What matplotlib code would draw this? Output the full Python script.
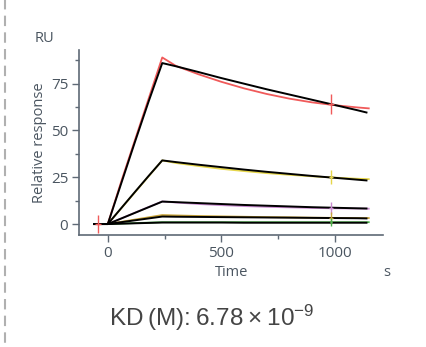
import matplotlib
matplotlib.use("Agg")
import matplotlib.pyplot as plt
from matplotlib.path import Path
from matplotlib.patches import FancyBboxPatch

# ---- data ----
t_data = [-60, 0, 60, 120, 180, 240, 300, 400, 500, 600, 700, 800, 900, 1000, 1100, 1150]
s1 = [0, 0, 23, 45, 67, 89, 84.5, 80, 76, 72.5, 69.5, 67, 65, 63.5, 62.3, 61.8]
s2 = [0, 0, 8.5, 17, 25.5, 34, 32.6, 31, 29.5, 28.3, 27.2, 26.3, 25.5, 24.8, 24.2, 24.0]
s3 = [0, 0, 3.0, 6.1, 9.1, 12.1, 11.5, 10.7, 10.1, 9.6, 9.2, 8.9, 8.6, 8.4, 8.3, 8.2]
s4 = [0, 0, 1.2, 2.4, 3.6, 4.8, 4.6, 4.3, 4.1, 3.9, 3.7, 3.6, 3.4, 3.3, 3.2, 3.2]
s5 = [0, 0, 0.25, 0.5, 0.75, 1.0, 1.0, 1.0, 1.0, 1.0, 1.0, 1.0, 1.0, 1.0, 1.0, 1.0]

t_fit = [-60, 0, 60, 120, 180, 240, 300, 400, 500, 600, 700, 800, 900, 1000, 1100, 1140]
f1 = [0, 0, 22, 44, 65.5, 86, 84.3, 81.2, 78.0, 75.0, 72.0, 69.2, 66.4, 63.6, 60.8, 59.6]
f2 = [0, 0, 8.6, 17.2, 25.7, 34, 33.1, 31.7, 30.4, 29.1, 27.9, 26.8, 25.7, 24.7, 23.7, 23.3]
f3 = [0, 0, 3.0, 6.0, 9.0, 12.0, 11.7, 11.2, 10.7, 10.2, 9.8, 9.4, 9.0, 8.7, 8.4, 8.3]
f4 = [0, 0, 1.0, 2.0, 3.0, 4.0, 3.9, 3.8, 3.7, 3.6, 3.5, 3.4, 3.3, 3.2, 3.1, 3.0]
f5 = [0, 0, 0.2, 0.4, 0.6, 0.8, 0.8, 0.8, 0.8, 0.7, 0.7, 0.7, 0.7, 0.7, 0.7, 0.7]

series = [s1, s2, s3, s4, s5]
fits = [f1, f2, f3, f4, f5]
colors = ["#f05a5a", "#e6d64a", "#c98ad0", "#c9a43a", "#4cb04c"]
report_t = 982
report_y = [64.0, 25.0, 8.8, 3.3, 1.0]
report_size = [14, 10, 9, 8, 6]
inject_t = -44
inject_y = 0

xticks = [0, 500, 1000]
xticks_minor = [250, 750]
yticks = [0, 25, 50, 75]
yticks_minor = [12.5, 37.5, 62.5, 87.5]
kd_text = "KD\u2009(M):\u20096.78\u2009×\u200910$^{\\mathregular{−9}}$"

# ---- figure ----
plt.rcParams['font.family'] = ['Open Sans', 'DejaVu Sans']
plt.rcParams['mathtext.fontset'] = 'custom'
plt.rcParams['mathtext.rm'] = 'Liberation Sans'
plt.rcParams['mathtext.it'] = 'Liberation Sans'
fig = plt.figure(figsize=(4.27, 3.47), dpi=100)
ax = fig.add_axes([0.186, 0.3236, 0.71, 0.5324])

cross = Path([(0, -1), (0, 1), (-0.35, 0), (0.35, 0)],
             [Path.MOVETO, Path.LINETO, Path.MOVETO, Path.LINETO])

for s, c in zip(series, colors):
    ax.plot(t_data, s, color=c, lw=1.3, zorder=2)
for f in fits:
    ax.plot(t_fit, f, color="black", lw=1.4, zorder=3)
for y, c, sz in zip(report_y, colors, report_size):
    ax.plot([report_t], [y], marker=cross, ms=sz, mec=c, mew=1.0, ls="none", zorder=4)
ax.plot([inject_t], [inject_y], marker=cross, ms=13, mec=colors[0], mew=1.0, ls="none", zorder=4)

ax.set_xlim(-125, 1211)
ax.set_ylim(-5.7, 93)
spine_c = "#5f6a76"
for side in ["top", "right"]:
    ax.spines[side].set_visible(False)
for side in ["left", "bottom"]:
    ax.spines[side].set_color(spine_c)
    ax.spines[side].set_linewidth(1.2)
ax.set_xticks(xticks)
ax.set_xticks(xticks_minor, minor=True)
ax.set_yticks(yticks)
ax.set_yticks(yticks_minor, minor=True)
ax.tick_params(axis="both", which="major", length=5, width=1, color=spine_c,
               labelcolor="#4a5560", labelsize=11, pad=3)
ax.tick_params(axis="both", which="minor", length=3, width=1, color=spine_c)

ax.set_ylabel("Relative response", color="#4a5560", fontsize=10.5, labelpad=3)
fig.text(232 / 427, 1 - 273 / 347, "Time", color="#4a5560", fontsize=10.5, ha="center", va="center")
fig.text(387 / 427, 1 - 273 / 347, "s", color="#4a5560", fontsize=10.5, ha="center", va="center")
fig.text(45 / 427, 1 - 39 / 347, "RU", color="#4a5560", fontsize=10.5, ha="center", va="center")
fig.text(212 / 427, 1 - 318 / 347, kd_text, color="#444444", fontsize=17.5, ha="center", va="center",
         family=["Liberation Sans", "DejaVu Sans"])

# dashed card border
box = FancyBboxPatch((5 / 427, -0.05), 1.2, 1.2, boxstyle="round,pad=0,rounding_size=0.04",
                     transform=fig.transFigure, fill=False, ec="#b0b0b0", lw=1.5,
                     ls=(0, (5, 3)), zorder=0)
fig.add_artist(box)

fig.savefig("out.png", dpi=100)
